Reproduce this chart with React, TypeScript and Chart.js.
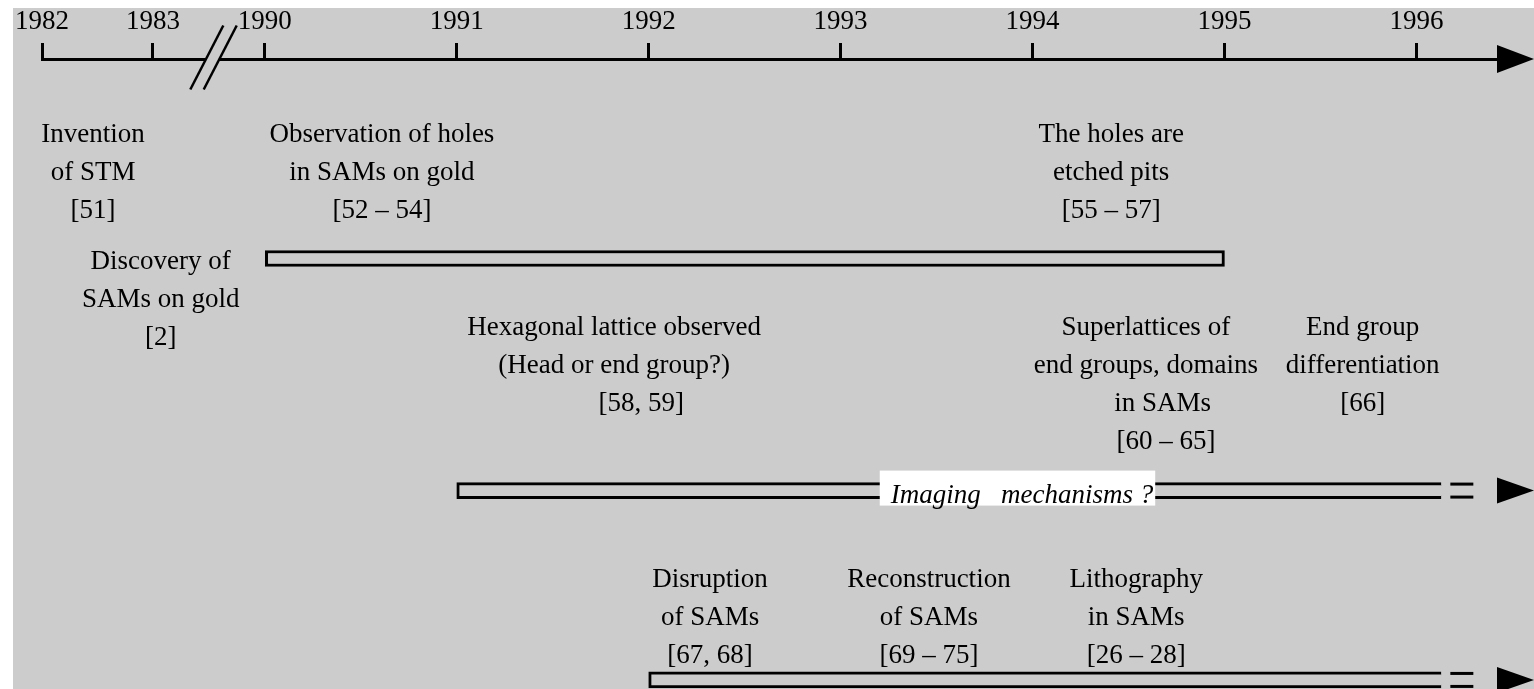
import React, { useEffect, useRef } from "react";
import { Chart, registerables } from "chart.js";

Chart.register(...registerables);

// ---------- data ----------
const tickYears = [1982, 1983, 1990, 1991, 1992, 1993, 1994, 1995, 1996];
const axisEndYear = 1996.42;

// events (label anchor on the time axis, text row, text lines)
const eventYears = [1982.46, 1983.07, 1990.61, 1994.41, 1991.82, 1994.59, 1995.72, 1992.32, 1993.46, 1994.54];
const eventRows = [2.2, 5.56, 2.2, 2.2, 7.31, 7.31, 7.31, 13.97, 13.97, 13.97];
const eventTexts = [
  ["Invention", "of STM", "[51]"],
  ["Discovery of", "SAMs on gold", "[2]"],
  ["Observation of holes", "in SAMs on gold", "[52 – 54]"],
  ["The holes are", "etched pits", "[55 – 57]"],
  ["Hexagonal lattice observed", "(Head or end group?)", "        [58, 59]"],
  ["Superlattices of", "end groups, domains", "     in SAMs", "      [60 – 65]"],
  ["End group", "differentiation", "[66]"],
  ["Disruption", "of SAMs", "[67, 68]"],
  ["Reconstruction", "of SAMs", "[69 – 75]"],
  ["Lithography", "in SAMs", "[26 – 28]"],
];

// periods (bars)
const periodStart = [1990, 1991, 1992];
const periodEnd = [1995, 1996.13, 1996.13];
const periodOngoing = [false, true, true];
const periodRows = [5.28, 11.42, 16.43];
const periodCaptions = ["", "Imaging   mechanisms ?", ""];
const periodCaptionYears = [0, 1993.945, 0];

// ---------- styling / axis mapping ----------
const BG = "#cccccc";
const FONT = "'Liberation Serif', 'Times New Roman', serif";
const FONT_SIZE = 27;
const ROW_MAX = 16.67;
const PRE_BREAK_UNIT = 0.578; // axis units per year before the break
const BREAK_GAP = 0.583; // axis units between 1983 and 1990
const BREAK_MARK = -0.27;

function toAxis(year: number): number {
  if (year >= 1990) return year - 1990;
  return -BREAK_GAP - (1983 - year) * PRE_BREAK_UNIT;
}

function drawArrow(ctx: CanvasRenderingContext2D, x0: number, cy: number, x1: number, half: number) {
  ctx.beginPath();
  ctx.moveTo(x0, cy - half);
  ctx.lineTo(x1, cy);
  ctx.lineTo(x0, cy + half);
  ctx.closePath();
  ctx.fillStyle = "#000";
  ctx.fill();
}

const timelinePlugin = {
  id: "timeline",
  afterDraw(chart: any) {
    const { ctx, chartArea } = chart;
    const xs = chart.scales.x;
    const ys = chart.scales.y;
    ctx.save();

    // main axis arrow
    const axisY = chartArea.top;
    drawArrow(ctx, chartArea.right, axisY, chart.width, 14);

    // axis break
    const bx = xs.getPixelForValue(BREAK_MARK);
    const s1 = bx - 6.7;
    const s2 = bx + 6.7;
    ctx.beginPath();
    ctx.moveTo(s1 - 16, axisY + 30.5);
    ctx.lineTo(s1 + 17, axisY - 33.5);
    ctx.lineTo(s2 + 17, axisY - 33.5);
    ctx.lineTo(s2 - 16, axisY + 30.5);
    ctx.closePath();
    ctx.fillStyle = BG;
    ctx.fill();
    ctx.strokeStyle = "#000";
    ctx.lineWidth = 2.5;
    [s1, s2].forEach((s) => {
      ctx.beginPath();
      ctx.moveTo(s - 16, axisY + 30.5);
      ctx.lineTo(s + 17, axisY - 33.5);
      ctx.stroke();
    });

    // ongoing markers and captions
    const meta = chart.getDatasetMeta(0);
    meta.data.forEach((bar: any, i: number) => {
      const p = bar.getProps(["x", "y", "height"], true);
      const top = p.y - p.height / 2;
      const bottom = p.y + p.height / 2;
      if (periodOngoing[i]) {
        ctx.fillStyle = "#000";
        ctx.fillRect(p.x + 9, top, 23, 3);
        ctx.fillRect(p.x + 9, bottom - 3, 23, 3);
        drawArrow(ctx, chartArea.right, p.y, chart.width, 13);
      }
      if (periodCaptions[i]) {
        ctx.font = `italic ${FONT_SIZE}px ${FONT}`;
        const w = ctx.measureText(periodCaptions[i]).width;
        const cx = xs.getPixelForValue(toAxis(periodCaptionYears[i]));
        ctx.fillStyle = "#ffffff";
        ctx.fillRect(cx - w / 2 - 11, p.y - 20, w + 13, 35);
        ctx.fillStyle = "#000";
        ctx.textAlign = "center";
        ctx.textBaseline = "alphabetic";
        ctx.fillText(periodCaptions[i], cx, p.y + 12);
      }
    });

    // event labels
    ctx.font = `${FONT_SIZE}px ${FONT}`;
    ctx.fillStyle = "#000";
    ctx.textAlign = "center";
    ctx.textBaseline = "alphabetic";
    eventTexts.forEach((lines, i) => {
      const cx = xs.getPixelForValue(toAxis(eventYears[i]));
      lines.forEach((t, j) => {
        ctx.fillText(t, cx, ys.getPixelForValue(eventRows[i] + j));
      });
    });

    ctx.restore();
  },
};

export default function App() {
  const ref = useRef<HTMLCanvasElement>(null);

  useEffect(() => {
    const canvas = ref.current;
    if (!canvas) return;
    const chart = new Chart(canvas, {
      type: "bar",
      data: {
        datasets: [
          {
            data: periodStart.map((s, i) => ({ x: [toAxis(s), toAxis(periodEnd[i])], y: periodRows[i] })) as any,
            backgroundColor: BG,
            borderColor: "#000",
            borderWidth: 3,
            barThickness: 16,
            borderSkipped: ((c: any) => (periodOngoing[c.dataIndex] ? "end" : false)) as any,
          },
        ],
      },
      options: {
        indexAxis: "y",
        responsive: false,
        animation: false,
        devicePixelRatio: 1,
        layout: { padding: { left: 29, right: 37, top: 0, bottom: 0 } },
        plugins: { legend: { display: false }, tooltip: { enabled: false } },
        events: [],
        scales: {
          x: {
            type: "linear",
            position: "top",
            min: toAxis(1982),
            max: toAxis(axisEndYear),
            afterBuildTicks: (s: any) => {
              s.ticks = tickYears.map((y) => ({ value: toAxis(y) }));
            },
            afterFit: (s: any) => {
              s.height = 51;
              s.paddingLeft = 0;
              s.paddingRight = 0;
            },
            ticks: {
              autoSkip: false,
              maxRotation: 0,
              padding: 5,
              color: "#000",
              font: { family: FONT, size: FONT_SIZE },
              callback: (_v: any, i: number) => String(tickYears[i]),
            },
            grid: {
              drawOnChartArea: false,
              drawTicks: true,
              tickLength: 16,
              tickWidth: 3,
              tickColor: "#000",
            },
            border: { display: true, color: "#000", width: 3 },
          },
          y: {
            type: "linear",
            display: false,
            reverse: true,
            offset: false,
            min: 0,
            max: ROW_MAX,
          },
        },
      } as any,
      plugins: [timelinePlugin],
    });
    return () => chart.destroy();
  }, []);

  return (
    <div style={{ position: "absolute", left: 13, top: 8, width: 1521, height: 681, background: BG, overflow: "hidden" }}>
      <canvas ref={ref} width={1521} height={681} style={{ display: "block" }} />
    </div>
  );
}
